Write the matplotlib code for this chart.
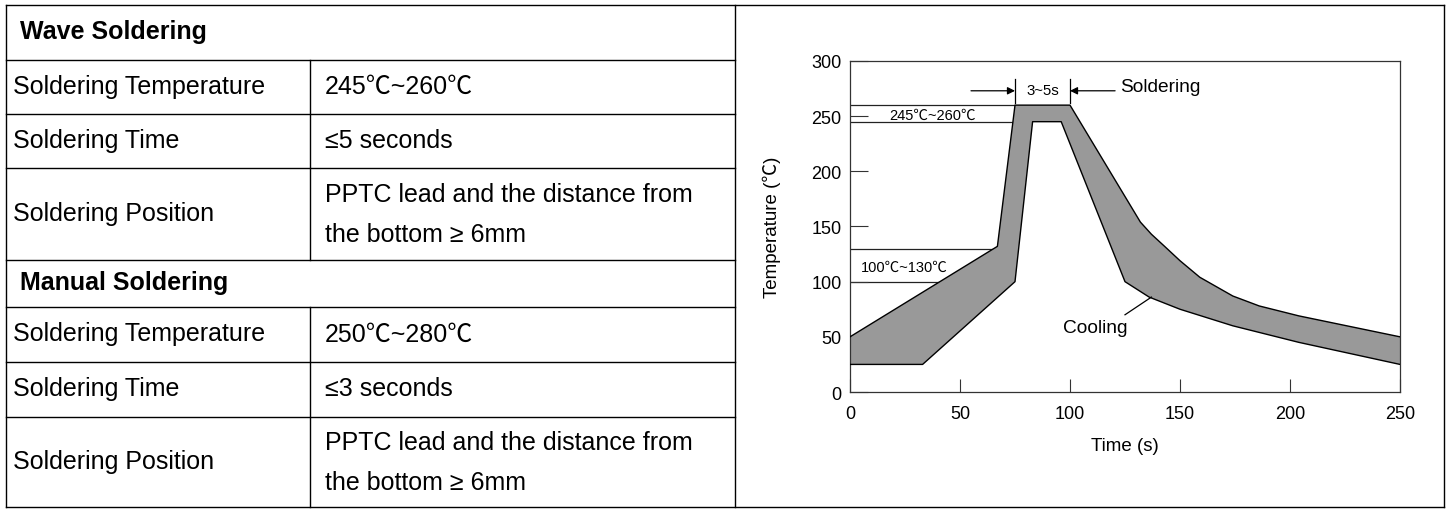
import matplotlib
matplotlib.use("Agg")
import matplotlib.pyplot as plt
import numpy as np

plt.rcParams['font.family'] = ['Liberation Sans', 'Noto Sans CJK SC', 'DejaVu Sans']

# ---- данные таблицы ----
sections = ["Wave Soldering", "Manual Soldering"]
row_labels = ["Soldering Temperature", "Soldering Time", "Soldering Position"]
wave_values = ["245℃~260℃", "≤5 seconds", "PPTC lead and the distance from\nthe bottom ≥ 6mm"]
manual_values = ["250℃~280℃", "≤3 seconds", "PPTC lead and the distance from\nthe bottom ≥ 6mm"]

# ---- данные профиля пайки ----
upper_t = [0, 67, 75, 100, 132, 137, 143, 150, 159, 174, 186, 204, 250]
upper_T = [50, 132, 260, 260, 154, 143, 132, 119, 104, 87, 78, 69, 50]
lower_t = [0, 33, 75, 83, 96, 125, 136, 150, 174, 204, 250]
lower_T = [25, 25, 100, 245, 245, 100, 86, 75, 60, 45, 25]
x_ticks = [0, 50, 100, 150, 200, 250]
y_ticks = [0, 50, 100, 150, 200, 250, 300]

W, H = 1449, 510
fig = plt.figure(figsize=(W / 100, H / 100), dpi=100)

# холст для таблицы (пиксельные координаты)
bg = fig.add_axes([0, 0, 1, 1])
bg.set_xlim(0, W)
bg.set_ylim(H, 0)
bg.axis('off')

left, mid, split, right = 6, 310, 735, 1444
rows = [6, 61, 115, 169, 261, 308, 363, 418, 508]
lc = dict(color='black', lw=1.0)

bg.plot([left, right], [rows[0], rows[0]], **lc)
bg.plot([left, right], [rows[-1], rows[-1]], **lc)
for y in rows[1:-1]:
    bg.plot([left, split], [y, y], **lc)
bg.plot([left, left], [rows[0], rows[-1]], **lc)
bg.plot([split, split], [rows[0], rows[-1]], **lc)
bg.plot([right, right], [rows[0], rows[-1]], **lc)
bg.plot([mid, mid], [rows[1], rows[4]], **lc)
bg.plot([mid, mid], [rows[5], rows[-1]], **lc)

fs = 18
for s, (sec, vals) in enumerate([(sections[0], wave_values), (sections[1], manual_values)]):
    base = 4 * s
    top, bot = rows[base], rows[base + 1]
    bg.text(20, (top + bot) / 2 + 6, sec, fontsize=fs, fontweight='bold', va='baseline')
    for i, (lab, val) in enumerate(zip(row_labels, vals)):
        top, bot = rows[base + 1 + i], rows[base + 2 + i]
        cy = (top + bot) / 2
        bg.text(13, cy + 6, lab, fontsize=fs, va='baseline')
        lines = val.split("\n")
        if len(lines) == 1:
            bg.text(325, cy + 6, lines[0], fontsize=fs, va='baseline')
        else:
            bg.text(325, cy - 13, lines[0], fontsize=fs, va='baseline')
            bg.text(325, cy + 27, lines[1], fontsize=fs, va='baseline')

# ---- график ----
ax = fig.add_axes([850 / W, 1 - 393 / H, 550 / W, 331 / H])
ax.set_xlim(0, 250)
ax.set_ylim(0, 300)

ut = np.array(upper_t, dtype=float)
uT = np.array(upper_T, dtype=float)
lt = np.array(lower_t, dtype=float)
lT = np.array(lower_T, dtype=float)

ax.fill(np.concatenate([ut, lt[::-1]]), np.concatenate([uT, lT[::-1]]),
        facecolor='#999999', edgecolor='none', zorder=2)
ax.plot(ut, uT, color='black', lw=1.0, zorder=3)
ax.plot(lt, lT, color='black', lw=1.0, zorder=3)

# горизонтальные линии до кривой нагрева
rise_t, rise_T = ut[:3], uT[:3]
for lvl in [260, 245, 130, 100]:
    xe = np.interp(lvl, rise_T, rise_t)
    ax.plot([0, xe], [lvl, lvl], color='#222222', lw=0.9, zorder=1)

ax.text(37.5, 247.5, "245℃~260℃", fontsize=10.5, ha='center', va='baseline')
ax.text(5, 110, "100℃~130℃", fontsize=10.5, ha='left', va='baseline')

# зона пайки 3~5s
ax.plot([75, 75], [262, 284], color='black', lw=0.9)
ax.plot([100, 100], [262, 284], color='black', lw=0.9)
ap = dict(arrowstyle='-|>', color='black', lw=0.9, mutation_scale=11, shrinkA=0, shrinkB=0)
ax.annotate('', xy=(75, 273), xytext=(55, 273), arrowprops=ap)
ax.annotate('', xy=(100, 273), xytext=(120.5, 273), arrowprops=ap)
ax.text(87.5, 270, "3~5s", fontsize=10.8, ha='center', va='baseline')
ax.text(123, 272.5, "Soldering", fontsize=13.8, ha='left', va='baseline')

ax.plot([125, 137], [70, 86], color='black', lw=0.9)
ax.text(111.7, 54.5, "Cooling", fontsize=13.8, ha='center', va='baseline')

ax.set_xticks(x_ticks)
ax.set_yticks(y_ticks)
ax.tick_params(axis='x', direction='in', length=9.4, width=0.8, pad=9.5,
               labelsize=13, color='#333333')
ax.tick_params(axis='y', direction='in', length=13, width=0.8, pad=6,
               labelsize=13, color='#333333')
for sp in ax.spines.values():
    sp.set_color('#333333')
    sp.set_linewidth(0.9)

ax.set_xlabel("Time (s)", fontsize=13.5)
ax.xaxis.set_label_coords(0.5, -0.162)
ax.xaxis.label.set_va('center')
ax.set_ylabel("Temperature (℃)", fontsize=13.5)
ax.yaxis.set_label_coords(-0.1418, 0.5)
ax.yaxis.label.set_va('center')

fig.savefig("out.png", dpi=100)
